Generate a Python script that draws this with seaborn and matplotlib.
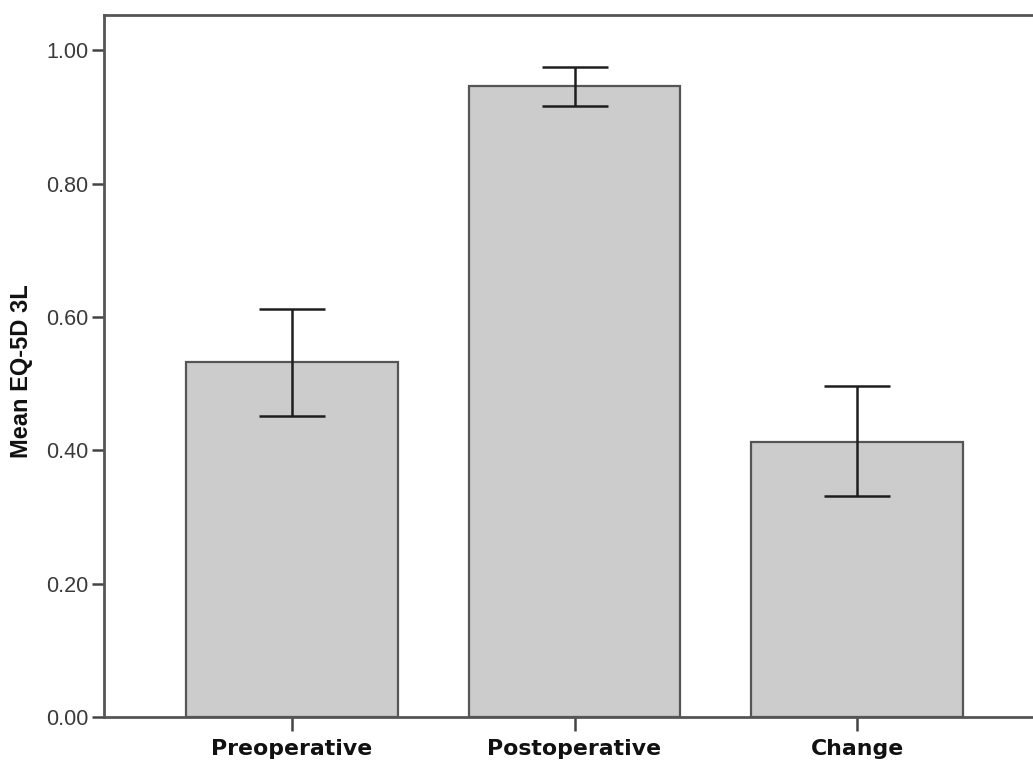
import matplotlib
matplotlib.use("Agg")
import matplotlib.pyplot as plt
import seaborn as sns
import pandas as pd
import numpy as np

categories = ["Preoperative", "Postoperative", "Change"]
means = [0.532, 0.946, 0.413]
ci_lower = [0.452, 0.917, 0.332]
ci_upper = [0.612, 0.975, 0.496]
y_ticks = [0.0, 0.2, 0.4, 0.6, 0.8, 1.0]
y_label = "Mean EQ-5D 3L"

sns.set_style("white")
plt.rcParams["font.family"] = ["DejaVu Sans"]

df = pd.DataFrame({"cat": categories, "mean": means})

fig = plt.figure(figsize=(10.33, 7.62), dpi=100)
ax = fig.add_axes([104 / 1033, 1 - 717 / 762, (1045 - 104) / 1033, (717 - 15) / 762])

sns.barplot(data=df, x="cat", y="mean", order=categories, color="#cccccc",
            width=0.75, edgecolor="#555555", linewidth=1.6, errorbar=None,
            saturation=1, ax=ax, zorder=2)

m = np.array(means)
err = np.vstack([m - np.array(ci_lower), np.array(ci_upper) - m])
ax.errorbar(np.arange(len(categories)), m, yerr=err, fmt="none",
            ecolor="#1e1e1e", elinewidth=1.8, capsize=23.5, capthick=1.8, zorder=3)

ax.set_xlim(-0.665, 2.665)
ax.set_ylim(0, 1.053)
ax.set_yticks(y_ticks)
ax.set_yticklabels([f"{v:.2f}" for v in y_ticks], family="Liberation Sans",
                   fontsize=15.5, color="#3a3a3a")
ax.set_xticks(range(len(categories)))
ax.set_xticklabels(categories, fontsize=15.8, fontweight="bold", color="#111111")
ax.set_xlabel("")
ax.set_ylabel(y_label, family="Liberation Sans", fontsize=17, fontweight="bold",
              color="#111111")
ax.yaxis.set_label_coords((33 - 104) / 941, (717 - 371) / 702)

for s in ["left", "bottom", "top"]:
    ax.spines[s].set_visible(True)
    ax.spines[s].set_color("#555555")
    ax.spines[s].set_linewidth(2)
ax.spines["right"].set_visible(False)

ax.tick_params(axis="y", direction="out", length=9, width=1.8, color="#444444", pad=2, left=True)
ax.tick_params(axis="x", direction="out", length=10, width=1.8, color="#444444", pad=6, bottom=True)

fig.savefig("out.png", dpi=100)
